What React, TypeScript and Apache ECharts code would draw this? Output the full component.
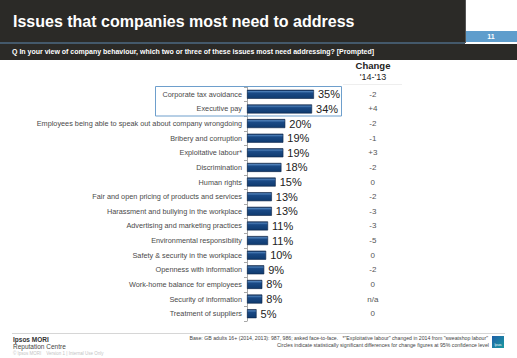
import React, { useEffect, useRef } from "react";
import * as echarts from "echarts";

const categories = [
  "Corporate tax avoidance",
  "Executive pay",
  "Employees being able to speak out about company wrongdoing",
  "Bribery and corruption",
  "Exploitative labour*",
  "Discrimination",
  "Human rights",
  "Fair and open pricing of products and services",
  "Harassment and bullying in the workplace",
  "Advertising and marketing practices",
  "Environmental responsibility",
  "Safety & security in the workplace",
  "Openness with information",
  "Work-home balance for employees",
  "Security of information",
  "Treatment of suppliers",
];
const values = [35, 34, 20, 19, 19, 18, 15, 13, 13, 11, 11, 10, 9, 8, 8, 5];
const changes = ["-2", "+4", "-2", "-1", "+3", "-2", "0", "-2", "-3", "-3", "-5", "0", "-2", "0", "n/a", "0"];

const FONT = "Arial, 'Liberation Sans', Helvetica, sans-serif";

export default function App() {
  const ref = useRef<HTMLDivElement>(null);
  useEffect(() => {
    if (!ref.current) return;
    const chart = echarts.init(ref.current, null, { renderer: "svg" });
    const gridLeft = 247;
    const gridTop = 87;
    const gridHeight = 234;
    const gridWidth = 114.8;
    chart.setOption({
      animation: false,
      backgroundColor: "#ffffff",
      textStyle: { fontFamily: FONT },
      grid: { left: gridLeft, top: gridTop, width: gridWidth, height: gridHeight, containLabel: false },
      xAxis: { type: "value", min: 0, max: 60, show: false },
      yAxis: [
        {
          type: "category",
          data: categories,
          inverse: true,
          axisLine: { show: true, lineStyle: { color: "#a8a8a8", width: 1 } },
          axisTick: { show: true, length: 3, lineStyle: { color: "#a8a8a8" } },
          axisLabel: { fontSize: 7.3, color: "#4a4a4a", margin: 5, fontFamily: FONT },
        },
        {
          type: "category",
          data: categories.map((_, i) => String(i)),
          inverse: true,
          position: "right",
          axisLine: { show: false },
          axisTick: { show: false },
          axisLabel: {
            fontSize: 8,
            color: "#555",
            margin: 11,
            align: "center",
            fontFamily: FONT,
            formatter: (_v: string, i: number) => changes[i],
          },
        },
      ],
      series: [
        {
          type: "bar",
          data: values,
          yAxisIndex: 0,
          barWidth: 9,
          itemStyle: {
            color: new echarts.graphic.LinearGradient(0, 0, 0, 1, [
              { offset: 0, color: "#0e2f5c" },
              { offset: 0.15, color: "#4d7fb8" },
              { offset: 0.35, color: "#1a4a86" },
              { offset: 1, color: "#0f3a6e" },
            ]),
            borderColor: "#0a2244",
            borderWidth: 0.6,
          },
          label: {
            show: true,
            position: "right",
            distance: 4,
            fontSize: 11,
            color: "#222",
            fontFamily: FONT,
            formatter: "{c}%",
          },
        },
      ],
      graphic: [
        { type: "rect", shape: { x: 0, y: 0, width: 465, height: 43 }, style: { fill: "#2b2a27" } },
        { type: "rect", shape: { x: 465, y: 0, width: 1, height: 43 }, style: { fill: "#555" } },
        { type: "rect", shape: { x: 466, y: 31, width: 51, height: 11 }, style: { fill: "#5f9dcc" } },
        {
          type: "text",
          x: 491,
          y: 36.5,
          style: { text: "11", fill: "#ffffff", font: "bold 7px " + FONT, align: "center", verticalAlign: "middle" },
        },
        {
          type: "text",
          x: 13,
          y: 21,
          style: {
            text: "Issues that companies most need to address",
            fill: "#ffffff",
            font: "bold 16px " + FONT,
            verticalAlign: "middle",
          },
        },
        { type: "rect", shape: { x: 0, y: 42, width: 465, height: 2 }, style: { fill: "#44596b" } },
        { type: "rect", shape: { x: 0, y: 44, width: 517, height: 16 }, style: { fill: "#2b2a27" } },
        {
          type: "text",
          x: 12,
          y: 51,
          style: {
            text: "Q In your view of company behaviour, which two or three of these issues most need addressing? [Prompted]",
            fill: "#ffffff",
            font: "bold 7px " + FONT,
            verticalAlign: "middle",
          },
        },
        {
          type: "text",
          x: 373,
          y: 65,
          style: { text: "Change", fill: "#222", font: "bold 9.5px " + FONT, align: "center", verticalAlign: "middle" },
        },
        {
          type: "text",
          x: 373,
          y: 76.5,
          style: { text: "'14-'13", fill: "#222", font: "9px " + FONT, align: "center", verticalAlign: "middle" },
        },
        { type: "line", shape: { x1: 343, y1: 84.5, x2: 402, y2: 84.5 }, style: { stroke: "#eeeeee", lineWidth: 1 } },
        {
          type: "rect",
          shape: { x: 155.5, y: 86.5, width: 186, height: 29.5 },
          style: { fill: "none", stroke: "#6e9fcc", lineWidth: 1 },
          z: 10,
        },
        { type: "line", shape: { x1: 12, y1: 333.5, x2: 505, y2: 333.5 }, style: { stroke: "#d6d6d6", lineWidth: 1 } },
        {
          type: "text",
          x: 13,
          y: 339.5,
          style: { text: "Ipsos MORI", fill: "#333", font: "bold 6.5px " + FONT, verticalAlign: "middle" },
        },
        {
          type: "text",
          x: 13,
          y: 346.5,
          style: { text: "Reputation Centre", fill: "#444", font: "6.5px " + FONT, verticalAlign: "middle" },
        },
        {
          type: "text",
          x: 13,
          y: 353,
          style: { text: "© Ipsos MORI    Version 1 | Internal Use Only", fill: "#c4c4c4", font: "4.5px " + FONT, verticalAlign: "middle" },
        },
        {
          type: "text",
          x: 488,
          y: 337.5,
          style: {
            text: 'Base: GB adults 16+ (2014, 2013): 987, 986; asked face-to-face.   *"Exploitative labour" changed in 2014 from "sweatshop labour"',
            fill: "#444",
            font: "5.2px " + FONT,
            align: "right",
            verticalAlign: "middle",
          },
        },
        {
          type: "text",
          x: 489,
          y: 344.5,
          style: {
            text: "Circles indicate statistically significant differences for change figures at 95% confidence level",
            fill: "#444",
            font: "5.2px " + FONT,
            align: "right",
            verticalAlign: "middle",
          },
        },
        {
          type: "rect",
          shape: { x: 492, y: 336, width: 12, height: 12 },
          style: {
            fill: new echarts.graphic.LinearGradient(0, 0, 1, 1, [
              { offset: 0, color: "#1f5fa8" },
              { offset: 1, color: "#1a9aa0" },
            ]),
          },
        },
        {
          type: "text",
          x: 498,
          y: 345,
          style: { text: "Ipsos", fill: "#ffffff", font: "3px " + FONT, align: "center", verticalAlign: "middle" },
        },
      ],
    });
    return () => chart.dispose();
  }, []);
  return (
    <div
      ref={ref}
      style={{ position: "fixed", left: 0, top: 0, width: 517, height: 358, background: "#fff" }}
    />
  );
}
